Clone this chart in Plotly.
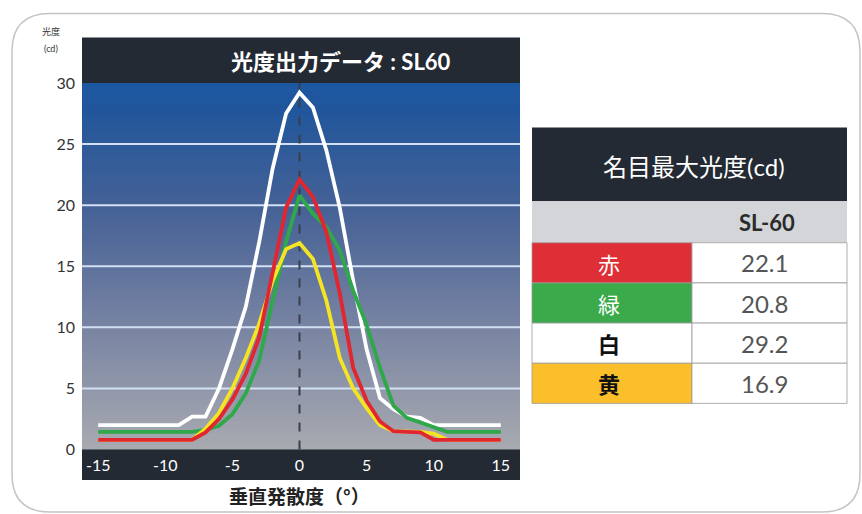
import plotly.graph_objects as go

# ---------------- data ----------------
angles = [-15, -14, -13, -12, -11, -10, -9, -8, -7, -6, -5, -4, -3, -2, -1, 0,
          1, 2, 3, 4, 5, 6, 7, 8, 9, 10, 11, 12, 13, 14, 15]

white = [2.0, 2.0, 2.0, 2.0, 2.0, 2.0, 2.0, 2.7, 2.7, 5.0, 8.2, 11.7, 17.0, 23.0, 27.5, 29.2,
         28.0, 24.5, 19.8, 13.8, 8.2, 4.2, 3.3, 2.7, 2.6, 2.0, 2.0, 2.0, 2.0, 2.0, 2.0]
green = [1.45, 1.45, 1.45, 1.45, 1.45, 1.45, 1.45, 1.45, 1.6, 1.95, 2.9, 4.6, 7.3, 12.3, 17.0, 20.8,
         19.3, 18.2, 16.3, 13.0, 10.2, 6.7, 3.6, 2.6, 2.2, 1.8, 1.45, 1.45, 1.45, 1.45, 1.45]
yellow = [0.8, 0.8, 0.8, 0.8, 0.8, 0.8, 0.8, 0.8, 1.7, 3.0, 5.0, 7.5, 10.3, 13.8, 16.4, 16.9,
          15.6, 12.2, 7.5, 5.0, 3.4, 2.0, 1.5, 1.45, 1.45, 1.3, 0.8, 0.8, 0.8, 0.8, 0.8]
red = [0.8, 0.8, 0.8, 0.8, 0.8, 0.8, 0.8, 0.8, 1.4, 2.5, 4.1, 6.2, 9.2, 14.5, 19.8, 22.1,
       20.7, 17.8, 12.8, 6.7, 4.0, 2.3, 1.5, 1.45, 1.4, 0.8, 0.8, 0.8, 0.8, 0.8, 0.8]

y_ticks = [0, 5, 10, 15, 20, 25, 30]
x_ticks = [-15, -10, -5, 0, 5, 10, 15]

chart_title = "光度出力データ : SL60"
x_title = "垂直発散度（°）"
y_title_1 = "光度"
y_title_2 = "(cd)"

table_title = "名目最大光度(cd)"
table_model = "SL-60"
color_names = ["赤", "緑", "白", "黄"]
max_values = [22.1, 20.8, 29.2, 16.9]

# ---------------- style ----------------
W, H = 862, 514
LATIN = "Lato, Noto Sans CJK JP, sans-serif"
CJK = "Noto Sans CJK JP, sans-serif"
DARK = "#232a33"
line_colors = {"white": "#ffffff", "green": "#2fa84a", "yellow": "#f4e423", "red": "#e1262f"}
row_bg = ["#df2f36", "#3aaa4b", "#ffffff", "#fbbf2c"]
row_fg = ["#ffffff", "#ffffff", "#111111", "#111111"]
row_bold = [False, False, True, True]

# vertical placement of the paper area as observed in the rendered page
PAPER_TOP, PAPER_H = 9.5, 495.5


def px(x):
    return x / W


def py(y):
    return 1 - (y - PAPER_TOP) / PAPER_H


PL, PR, PT, PB = 82, 520, 82.5, 449.5     # plot area in pixels
ZERO_X, SCALE_X = 299.5, 13.42

fig = go.Figure()

series = [("white", white), ("green", green), ("yellow", yellow), ("red", red)]
for name, vals in series:
    fig.add_trace(go.Scatter(x=angles, y=vals, mode="lines", name=name,
                             line=dict(color=line_colors[name], width=3.8),
                             showlegend=False, hoverinfo="skip"))

shapes = []

# outer rounded frame
x0, y0, x1, y1, r = 12, 13, 860, 512, 38
path = (f"M {px(x0 + r)} {py(y0)} L {px(x1 - r)} {py(y0)} "
        f"Q {px(x1)} {py(y0)} {px(x1)} {py(y0 + r)} L {px(x1)} {py(y1 - r)} "
        f"Q {px(x1)} {py(y1)} {px(x1 - r)} {py(y1)} L {px(x0 + r)} {py(y1)} "
        f"Q {px(x0)} {py(y1)} {px(x0)} {py(y1 - r)} L {px(x0)} {py(y0 + r)} "
        f"Q {px(x0)} {py(y0)} {px(x0 + r)} {py(y0)} Z")
shapes.append(dict(type="path", path=path, xref="paper", yref="paper",
                   line=dict(color="#c4c4c4", width=1.5), layer="below"))

# gradient background of plot (stacked bands, each reaching the bottom -> no seams)
stops = [(0.0, (28, 88, 162)), (0.08, (34, 86, 155)), (0.35, (70, 98, 150)),
         (0.65, (118, 130, 162)), (1.0, (168, 170, 176))]


def grad(t):
    for (a, ca), (b, cb) in zip(stops[:-1], stops[1:]):
        if a <= t <= b:
            f = (t - a) / (b - a)
            return "rgb(%d,%d,%d)" % tuple(round(ca[i] + (cb[i] - ca[i]) * f) for i in range(3))
    return "rgb(%d,%d,%d)" % stops[-1][1]


N = 90
for i in range(N):
    ya = PT + (PB - PT) * i / N
    shapes.append(dict(type="rect", xref="paper", yref="paper",
                       x0=px(PL), x1=px(PR), y0=py(PB), y1=py(ya),
                       fillcolor=grad((i + 0.5) / N), line=dict(width=0), layer="below"))

# title bar and x-axis strip
shapes.append(dict(type="rect", xref="paper", yref="paper", x0=px(PL), x1=px(PR),
                   y0=py(PT), y1=py(37), fillcolor=DARK, line=dict(width=0), layer="below"))
shapes.append(dict(type="rect", xref="paper", yref="paper", x0=px(PL), x1=px(PR),
                   y0=py(480), y1=py(PB), fillcolor=DARK, line=dict(width=0), layer="below"))

# horizontal grid lines
for v in y_ticks[1:-1]:
    shapes.append(dict(type="line", xref="paper", yref="y", x0=px(PL), x1=px(PR), y0=v, y1=v,
                       line=dict(color="#d3e0f4", width=2), layer="below"))

# dashed centre line
shapes.append(dict(type="line", xref="x", yref="paper", x0=0, x1=0, y0=py(PB), y1=py(PT),
                   line=dict(color="#3a3f4a", width=2, dash="dash"), layer="below"))

annotations = []
annotations.append(dict(text="<b>" + chart_title + "</b>", x=px(341), y=py(61), xref="paper",
                        yref="paper", showarrow=False,
                        font=dict(family=LATIN, size=22, color="#ffffff"),
                        xanchor="center", yanchor="middle"))
annotations.append(dict(text="<b>" + x_title + "</b>", x=px(299), y=py(495), xref="paper", yref="paper",
                        showarrow=False, font=dict(family=CJK, size=19, color="#222222"),
                        xanchor="center", yanchor="middle"))
annotations.append(dict(text=y_title_1, x=px(51), y=py(31), xref="paper", yref="paper",
                        showarrow=False, font=dict(family=CJK, size=9, color="#333333"),
                        xanchor="center", yanchor="middle"))
annotations.append(dict(text=y_title_2, x=px(51), y=py(48), xref="paper", yref="paper",
                        showarrow=False, font=dict(family=LATIN, size=9, color="#333333"),
                        xanchor="center", yanchor="middle"))

# ---------------- table ----------------
TL, TM, TR = 532, 692, 847
T_HEAD = (127, 201)
T_MODEL = (201, 242.5)
row_h = 40.2
shapes.append(dict(type="rect", xref="paper", yref="paper", x0=px(TL), x1=px(TR),
                   y0=py(T_HEAD[1]), y1=py(T_HEAD[0]), fillcolor=DARK, line=dict(width=0)))
shapes.append(dict(type="rect", xref="paper", yref="paper", x0=px(TL), x1=px(TR),
                   y0=py(T_MODEL[1]), y1=py(T_MODEL[0]), fillcolor="#d3d5d8", line=dict(width=0)))
annotations.append(dict(text=table_title, x=px(694), y=py(166), xref="paper", yref="paper",
                        showarrow=False, font=dict(family=LATIN, size=24, color="#ffffff"),
                        xanchor="center", yanchor="middle"))
annotations.append(dict(text="<b>" + table_model + "</b>", x=px(767), y=py(222), xref="paper",
                        yref="paper", showarrow=False,
                        font=dict(family=LATIN, size=22, color="#2b2b2b"),
                        xanchor="center", yanchor="middle"))
for i, (nm, val) in enumerate(zip(color_names, max_values)):
    ya = T_MODEL[1] + row_h * i
    yb = ya + row_h
    shapes.append(dict(type="rect", xref="paper", yref="paper", x0=px(TL), x1=px(TM),
                       y0=py(yb), y1=py(ya), fillcolor=row_bg[i],
                       line=dict(color="#9a9a9a", width=0.8)))
    shapes.append(dict(type="rect", xref="paper", yref="paper", x0=px(TM), x1=px(TR),
                       y0=py(yb), y1=py(ya), fillcolor="#ffffff",
                       line=dict(color="#9a9a9a", width=0.8)))
    label = ("<b>" + nm + "</b>") if row_bold[i] else nm
    annotations.append(dict(text=label, x=px(609), y=py((ya + yb) / 2), xref="paper",
                            yref="paper", showarrow=False,
                            font=dict(family=CJK, size=22, color=row_fg[i]),
                            xanchor="center", yanchor="middle"))
    annotations.append(dict(text=f"{val:.1f}", x=px(764), y=py((ya + yb) / 2), xref="paper",
                            yref="paper", showarrow=False,
                            font=dict(family=LATIN, size=24, color="#555555"),
                            xanchor="center", yanchor="middle"))

fig.update_layout(
    width=W, height=H, autosize=False,
    margin=dict(l=0, r=0, t=0, b=0, pad=0),
    paper_bgcolor="#ffffff",
    plot_bgcolor="rgba(0,0,0,0)",
    shapes=shapes,
    annotations=annotations,
    xaxis=dict(domain=[px(PL), px(PR)],
               range=[(PL - ZERO_X) / SCALE_X, (PR - ZERO_X) / SCALE_X],
               tickvals=x_ticks, ticktext=[str(v) for v in x_ticks],
               showgrid=False, zeroline=False, showline=False, ticks="",
               ticklabelstandoff=4,
               tickfont=dict(family=LATIN, size=16, color="#ffffff")),
    yaxis=dict(domain=[py(PB), py(PT)], range=[0, 30],
               tickvals=y_ticks, ticktext=[str(v) for v in y_ticks],
               showgrid=False, zeroline=False, showline=False, ticks="",
               ticklabelstandoff=6,
               tickfont=dict(family=LATIN, size=16, color="#333333")),
)

fig.write_html("out.html", config={"displayModeBar": False},
               post_script="document.body.style.margin='0';")
